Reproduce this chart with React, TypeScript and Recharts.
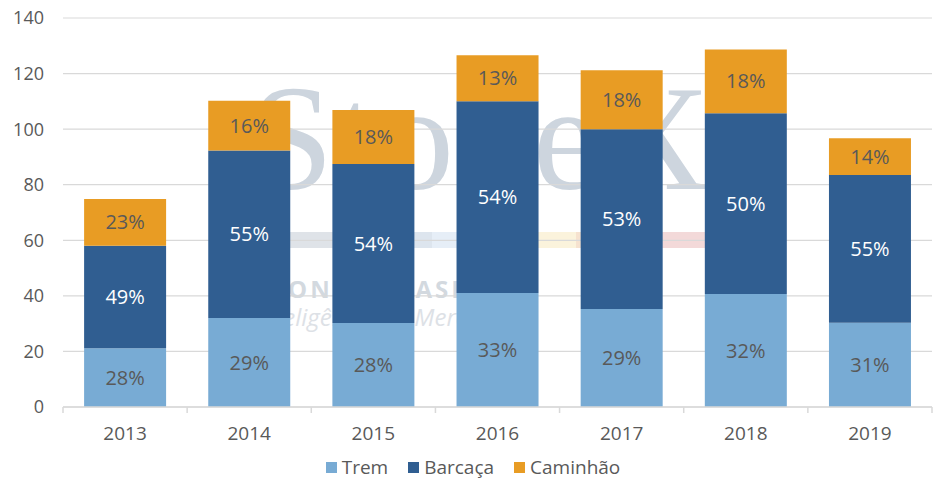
import React from "react"
import { Bar, BarChart, CartesianGrid, LabelList, XAxis, YAxis } from "recharts"

const years = ["2013", "2014", "2015", "2016", "2017", "2018", "2019"]
const trem = [21.1, 32, 30.2, 41, 35.3, 40.7, 30.3]
const barcaca = [36.9, 60.3, 57.3, 69, 64.7, 65, 53.2]
const caminhao = [16.9, 17.9, 19.4, 16.6, 21.2, 23, 13.2]
const tremPct = [28, 29, 28, 33, 29, 32, 31]
const barcacaPct = [49, 55, 54, 54, 53, 50, 55]
const caminhaoPct = [23, 16, 18, 13, 18, 18, 14]
const yTicks = [0, 20, 40, 60, 80, 100, 120, 140]

const FONT = "'Open Sans', Lato, sans-serif"
const TEXT = "#595959"
const AXIS = "#d9d9d9"

const series = [
  { key: "trem", name: "Trem", color: "#78abd4", label: TEXT },
  { key: "barcaca", name: "Barcaça", color: "#305e91", label: "#ffffff" },
  { key: "caminhao", name: "Caminhão", color: "#e89c24", label: TEXT },
]

const data = years.map((year, i) => ({
  year,
  trem: trem[i],
  barcaca: barcaca[i],
  caminhao: caminhao[i],
  tremPct: tremPct[i],
  barcacaPct: barcacaPct[i],
  caminhaoPct: caminhaoPct[i],
}))

function YearTick(props: any) {
  const { x, y, payload, index } = props
  const half = payload.offset ?? 62
  const axisY = y - 8
  return (
    <g>
      <line x1={x - half} x2={x - half} y1={axisY} y2={axisY + 6} stroke={AXIS} strokeWidth={1.5} />
      {index === years.length - 1 && (
        <line x1={x + half} x2={x + half} y1={axisY} y2={axisY + 6} stroke={AXIS} strokeWidth={1.5} />
      )}
      <text x={x} y={axisY + 33} textAnchor="middle" fill={TEXT} fontSize={19} fontFamily={FONT}>
        {payload.value}
      </text>
    </g>
  )
}

// faint logo behind the plot, as in the source image
function Watermark() {
  const stripes = ["#dfe3e8", "#dde5ee", "#e6eef7", "#fbf3dc", "#f6e2cf", "#f3d9d9"]
  return (
    <div style={{ position: "absolute", left: 0, top: 0, width: 946, height: 494, fontFamily: FONT }}>
      <div
        style={{
          position: "absolute",
          left: 250,
          top: 58,
          fontFamily: "'Liberation Serif', 'DejaVu Serif', serif",
          fontSize: 150,
          color: "#cdd5de",
          letterSpacing: 2,
          lineHeight: "160px",
        }}
      >
        StoneX
      </div>
      <div style={{ position: "absolute", left: 288, top: 232, display: "flex", height: 16 }}>
        {stripes.map((c, i) => (
          <div key={i} style={{ width: 72, height: 16, background: c }} />
        ))}
      </div>
      <div style={{ position: "absolute", left: 255, top: 272, fontSize: 24, fontWeight: 700, color: "#d3d9df", letterSpacing: 3 }}>
        STONEX BRASIL
      </div>
      <div style={{ position: "absolute", left: 255, top: 300, fontSize: 24, fontStyle: "italic", color: "#dde1e6" }}>
        Inteligência de Mercado
      </div>
    </div>
  )
}

function LegendRow() {
  return (
    <div
      style={{
        position: "absolute",
        left: 0,
        top: 454,
        width: 946,
        display: "flex",
        justifyContent: "center",
        gap: 20,
        fontFamily: FONT,
        fontSize: 19,
        color: TEXT,
      }}
    >
      {series.map((s) => (
        <div key={s.key} style={{ display: "flex", alignItems: "center", gap: 5 }}>
          <span style={{ width: 11, height: 11, background: s.color, display: "inline-block" }} />
          <span>{s.name}</span>
        </div>
      ))}
    </div>
  )
}

export default function App() {
  return (
    <div style={{ position: "absolute", left: 0, top: 0, width: 946, height: 494, background: "#fff" }}>
      <Watermark />
      <div style={{ position: "absolute", left: 0, top: 0 }}>
        <BarChart
          width={946}
          height={494}
          data={data}
          margin={{ top: 18, right: 14, left: 0, bottom: 57 }}
          barCategoryGap="17%"
        >
          <CartesianGrid vertical={false} stroke={AXIS} strokeWidth={1.2} />
          <XAxis
            dataKey="year"
            height={30}
            stroke={AXIS}
            strokeWidth={1.5}
            tickLine={false}
            tickSize={6}
            tickMargin={2}
            tick={<YearTick />}
            interval={0}
          />
          <YAxis
            width={63}
            domain={[0, 140]}
            ticks={yTicks}
            axisLine={false}
            tickLine={false}
            tickMargin={13}
            tick={{ fill: TEXT, fontSize: 18, fontFamily: FONT }}
          />
          {series.map((s) => (
            <Bar key={s.key} dataKey={s.key} name={s.name} stackId="a" fill={s.color} isAnimationActive={false}>
              <LabelList
                dataKey={s.key + "Pct"}
                position="center"
                formatter={(v: any) => `${v}%`}
                fill={s.label}
                fontSize={20}
                fontFamily={FONT}
              />
            </Bar>
          ))}
        </BarChart>
      </div>
      <LegendRow />
    </div>
  )
}
